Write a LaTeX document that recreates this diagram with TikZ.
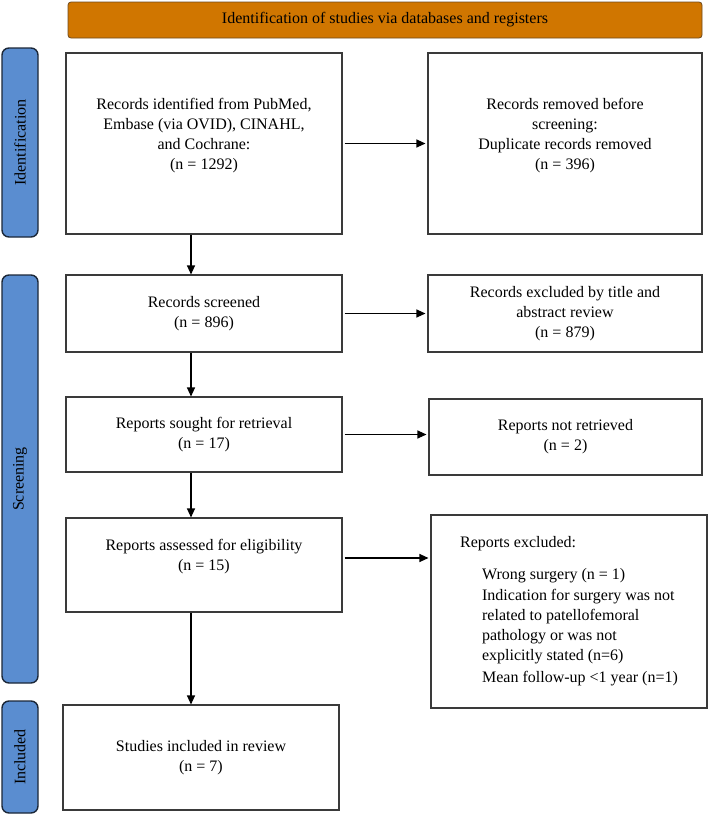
\documentclass[tikz,border=0pt]{standalone}
\usepackage{fontspec}
\setmainfont{Liberation Serif}
\usepackage{tikz}
\usetikzlibrary{
  arrows.meta,
  positioning,
  calc
}
\definecolor{prHead}{HTML}{D07600}
\definecolor{prHeadLine}{HTML}{6E4A1E}
\definecolor{prSide}{HTML}{5A8DD0}
\definecolor{prSideLine}{HTML}{1B2738}
\definecolor{prLine}{HTML}{3A3A3A}
\newcommand{\prfont}{\fontsize{16}{20}\selectfont}
\tikzset{
  prbox/.style={
    draw=prLine, line width=1.1pt, align=center, font=\prfont, inner sep=2pt
  },
  headbox/.style={draw=prHeadLine, fill=prHead, rounded corners=3pt, line width=0.8pt,
    minimum width=634pt, minimum height=36pt, font=\prfont},
  sidebox/.style={draw=prSideLine, fill=prSide, rounded corners=7pt, line width=1.4pt,
    rotate=90, minimum height=36pt, font=\prfont},
  flow/.style={-{Triangle[length=9pt,width=8pt]}, line width=1.1pt, black},
  sideflow/.style={flow, shorten <=2pt, shorten >=2pt}
}

\begin{document}
\begin{tikzpicture}[x=1pt, y=-1pt]
  \useasboundingbox (0,0) rectangle (708,814);
  % header and phase labels
  \node[headbox] (hdr) at (385,20) {Identification of studies via databases and registers};
  \node[sidebox, minimum width=189pt] (sid) at (20,142.5) {Identification};
  \node[sidebox, minimum width=408pt] (sscr) at (20,479) {Screening};
  \node[sidebox, minimum width=112pt] (sinc) at (20,757) {Included};

  % left column
  \node[prbox, minimum width=276pt, minimum height=181pt] (a) at (204,143.5)
    {Records identified from PubMed,\\Embase (via OVID), CINAHL,\\and Cochrane:\\(n = 1292)\\\mbox{}};
  \node[prbox, minimum width=276pt, minimum height=77pt] (c) at (204,313.5)
    {Records screened\\(n = 896)};
  \node[prbox, minimum width=276pt, minimum height=75pt] (e) at (204,434.5)
    {Reports sought for retrieval\\(n = 17)};
  \node[prbox, minimum width=276pt, minimum height=94pt] (g) at (204,565)
    {Reports assessed for eligibility\\(n = 15)\\\mbox{}};
  \node[prbox, minimum width=276pt, minimum height=105pt] (i) at (201,757.5)
    {Studies included in review\\(n = 7)};

  % right column
  \node[prbox, minimum width=274pt, minimum height=181pt] (b) at (565,143.5)
    {Records removed before\\screening:\\Duplicate records removed\\(n = 396)\\\mbox{}};
  \node[prbox, minimum width=274pt, minimum height=77pt] (d) at (565,313.5)
    {Records excluded by title and\\abstract review\\(n = 879)};
  \node[prbox, minimum width=273pt, minimum height=76pt] (f) at (565.5,437)
    {Reports not retrieved\\(n = 2)};
  \node[prbox, minimum width=276pt, minimum height=193pt, align=left] (h) at (569,611.5)
    {Reports excluded:\\[12pt]
     \hspace*{22pt}Wrong surgery (n = 1)\\[1pt]
     \hspace*{22pt}Indication for surgery was not\\
     \hspace*{22pt}related to patellofemoral\\
     \hspace*{22pt}pathology or was not\\
     \hspace*{22pt}explicitly stated (n=6)\\[2pt]
     \hspace*{22pt}Mean follow-up <1 year (n=1)};

  % arrows
  \draw[sideflow] (a.east) -- (b.west);
  \draw[sideflow] (c.east) -- (d.west);
  \draw[sideflow] (e.east) -- (e.east -| f.west);
  \draw[sideflow] ([yshift=7pt]g.east) -- ([yshift=7pt]g.east -| h.west);
  \draw[flow] ([xshift=-13pt]a.south) -- ([xshift=-13pt]a.south |- c.north);
  \draw[flow] ([xshift=-13pt]c.south) -- ([xshift=-13pt]c.south |- e.north);
  \draw[flow] ([xshift=-13pt]e.south) -- ([xshift=-13pt]e.south |- g.north);
  \draw[flow] ([xshift=-13pt]g.south) -- ([xshift=-13pt]g.south |- i.north);
\end{tikzpicture}
\end{document}
